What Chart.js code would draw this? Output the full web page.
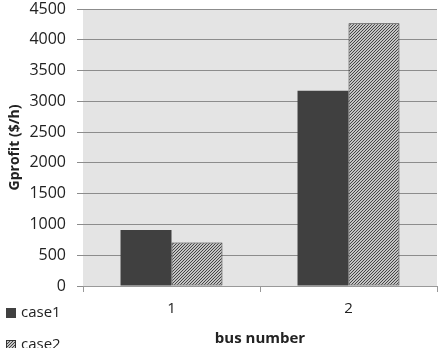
<!DOCTYPE html>
<html><head><meta charset="utf-8">
<script src="https://cdn.jsdelivr.net/npm/chart.js@4"></script>
<style>html,body{margin:0;padding:0;background:#fff}#wrap{width:445px;height:348px}</style>
</head><body><div id="wrap"><canvas id="c" width="445" height="348"></canvas></div>
<script>
const categories = ['1', '2'];
const seriesNames = ['case1', 'case2'];
const case1 = [910, 3170];
const case2 = [708, 4270];
const yTicks = [0, 500, 1000, 1500, 2000, 2500, 3000, 3500, 4000, 4500];

function hatch() {
  const p = document.createElement('canvas');
  p.width = 3; p.height = 3;
  const g = p.getContext('2d');
  g.fillStyle = '#c4c4c4'; g.fillRect(0, 0, 3, 3);
  g.fillStyle = '#444444';
  g.fillRect(2, 0, 1, 1); g.fillRect(1, 1, 1, 1); g.fillRect(0, 2, 1, 1);
  return document.getElementById('c').getContext('2d').createPattern(p, 'repeat');
}
const pat = hatch();
const FONT = "'Open Sans', 'DejaVu Sans', sans-serif";

const bgPlugin = {
  id: 'bg',
  beforeDraw(chart) {
    const {ctx, chartArea: a} = chart;
    ctx.save(); ctx.fillStyle = '#e4e4e4';
    ctx.fillRect(a.left, a.top, a.right - a.left, a.bottom - a.top);
    ctx.restore();
  }
};
const legendPlugin = {
  id: 'leg',
  afterDraw(chart) {
    const ctx = chart.ctx;
    ctx.save();
    ctx.font = "15px " + FONT;
    ctx.textBaseline = 'middle';
    chart.data.datasets.forEach((ds, i) => {
      const y = 313 + i * 32;
      ctx.fillStyle = ds.backgroundColor;
      ctx.fillRect(6, y - 5, 10, 10);
      if (ds.borderWidth) { ctx.strokeStyle = '#333'; ctx.lineWidth = 1; ctx.strokeRect(6.5, y - 4.5, 9, 9); }
      ctx.fillStyle = '#222';
      ctx.fillText(ds.label, 21, y);
    });
    ctx.restore();
  }
};

new Chart(document.getElementById('c'), {
  type: 'bar',
  data: {
    labels: categories,
    datasets: [
      {label: seriesNames[0], data: case1, backgroundColor: '#404040', borderWidth: 0},
      {label: seriesNames[1], data: case2, backgroundColor: pat, borderColor: '#333', borderWidth: 1, borderSkipped: false}
    ]
  },
  plugins: [bgPlugin, legendPlugin],
  options: {
    responsive: false, animation: false,
    layout: {padding: {top: 9, right: 8, left: 7, bottom: 0}},
    datasets: {bar: {categoryPercentage: 0.576, barPercentage: 1}},
    plugins: {legend: {display: false}, tooltip: {enabled: false}},
    scales: {
      x: {
        offset: true,
        grid: {offset: true, drawOnChartArea: false, color: '#999', tickLength: 6},
        border: {display: true, color: '#999'},
        ticks: {color: '#222', font: {family: FONT, size: 15}, padding: 8},
        title: {display: true, text: 'bus number', color: '#222', font: {family: FONT, size: 15, weight: 'bold'}, padding: {top: 4, bottom: 0}},
        afterFit(s) { s.height = 62; s.paddingLeft = 0; s.paddingRight = 0; }
      },
      y: {
        min: 0, max: 4500,
        afterBuildTicks(s) { s.ticks = yTicks.map(v => ({value: v})); },
        grid: {color: '#8c8c8c', tickLength: 6},
        border: {display: false},
        ticks: {color: '#222', font: {family: FONT, size: 16}, padding: 11, callback: v => String(v)},
        title: {display: true, text: 'Gprofit ($/h)', color: '#222', font: {family: FONT, size: 14, weight: 'bold'}, padding: {top: 0, bottom: 0}},
        afterFit(s) { s.width = 76; s.paddingTop = 0; s.paddingBottom = 0; }
      }
    }
  }
});
</script></body></html>
